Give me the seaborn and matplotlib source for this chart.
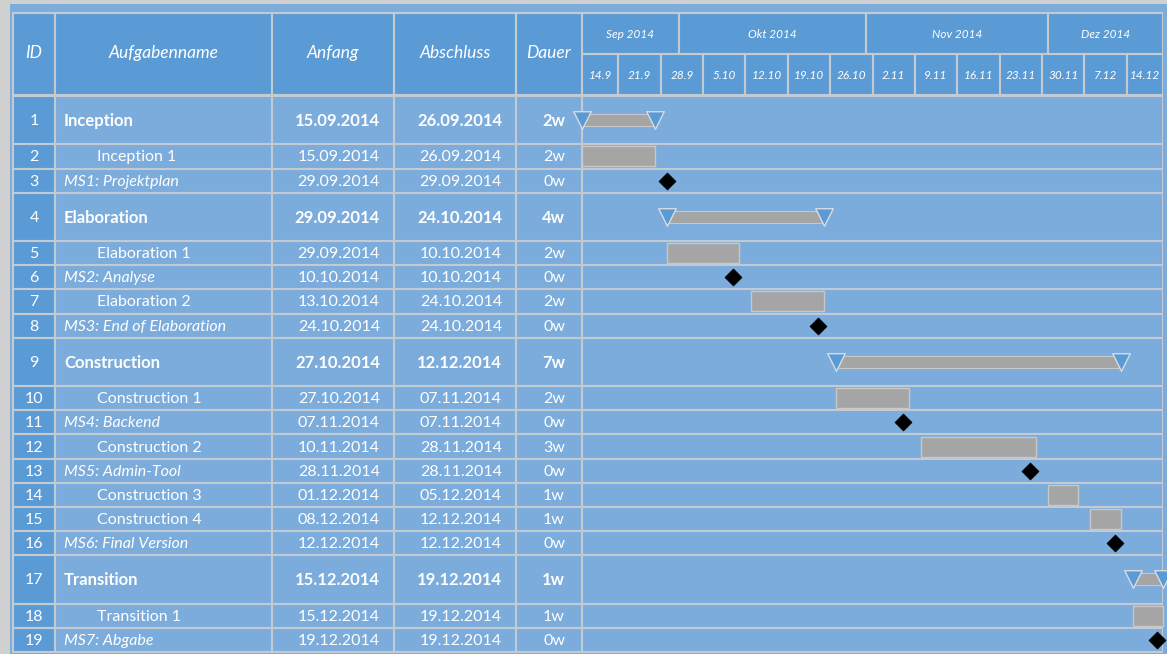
import numpy as np
import pandas as pd
import matplotlib
matplotlib.use("Agg")
import matplotlib.pyplot as plt
import matplotlib.dates as mdates
from matplotlib.patches import Rectangle
import seaborn as sns

# =============================================================================
# data
# =============================================================================
ids = list(range(1, 20))
names = ["Inception", "Inception 1", "MS1: Projektplan",
         "Elaboration", "Elaboration 1", "MS2: Analyse", "Elaboration 2",
         "MS3: End of Elaboration",
         "Construction", "Construction 1", "MS4: Backend", "Construction 2",
         "MS5: Admin-Tool", "Construction 3", "Construction 4", "MS6: Final Version",
         "Transition", "Transition 1", "MS7: Abgabe"]
kinds = ["summary", "task", "milestone",
         "summary", "task", "milestone", "task", "milestone",
         "summary", "task", "milestone", "task", "milestone", "task", "task", "milestone",
         "summary", "task", "milestone"]
starts = ["15.09.2014", "15.09.2014", "29.09.2014",
          "29.09.2014", "29.09.2014", "10.10.2014", "13.10.2014", "24.10.2014",
          "27.10.2014", "27.10.2014", "07.11.2014", "10.11.2014", "28.11.2014",
          "01.12.2014", "08.12.2014", "12.12.2014",
          "15.12.2014", "15.12.2014", "19.12.2014"]
ends = ["26.09.2014", "26.09.2014", "29.09.2014",
        "24.10.2014", "10.10.2014", "10.10.2014", "24.10.2014", "24.10.2014",
        "12.12.2014", "07.11.2014", "07.11.2014", "28.11.2014", "28.11.2014",
        "05.12.2014", "12.12.2014", "12.12.2014",
        "19.12.2014", "19.12.2014", "19.12.2014"]
durations = ["2w", "2w", "0w", "4w", "2w", "0w", "2w", "0w",
             "7w", "2w", "0w", "3w", "0w", "1w", "1w", "0w", "1w", "1w", "0w"]

headers = ["ID", "Aufgabenname", "Anfang", "Abschluss", "Dauer"]
month_labels = ["Sep 2014", "Okt 2014", "Nov 2014", "Dez 2014"]
month_firsts = ["01.09.2014", "01.10.2014", "01.11.2014", "01.12.2014"]
week_labels = ["14.9", "21.9", "28.9", "5.10", "12.10", "19.10", "26.10",
               "2.11", "9.11", "16.11", "23.11", "30.11", "7.12", "14.12"]
timeline_start = "15.09.2014"
timeline_end = "20.12.2014"

# =============================================================================
# styling / layout (pixels)
# =============================================================================
W, H = 1167, 654
HEAD_BLUE = "#5B9BD5"
ROW_BLUE = "#7BACDC"
GRID = "#C3CAD2"
BAR_GRAY = "#A5A5A5"
LW = 1.5
FS = 11.5
FS_HEAD = 12.5

col_edges = [13, 55, 272, 394, 516, 582, 1163]
head_top, head_mid, head_bot = 13, 54, 95
body_top, body_bot = 96, 652

sns.set_theme(style="white")
plt.rcParams["font.family"] = ["Lato", "DejaVu Sans"]

fig = plt.figure(figsize=(W / 100, H / 100), dpi=100, facecolor="#D0D0D0")

# table part in pixel coordinates
ax = fig.add_axes([0, 0, 1, 1])
ax.set_xlim(0, W)
ax.set_ylim(H, 0)
ax.axis("off")
ax.add_patch(Rectangle((10, 4), W - 10, H - 4, fc=ROW_BLUE, ec="none", zorder=0))

df = pd.DataFrame({"id": ids, "name": names, "kind": kinds,
                   "start": pd.to_datetime(starts, format="%d.%m.%Y"),
                   "end": pd.to_datetime(ends, format="%d.%m.%Y"),
                   "dur": durations})
df["end_x"] = df["end"] + pd.Timedelta(days=1)
units = np.where(df["kind"] == "summary", 2, 1)
unit_h = (body_bot - body_top) / units.sum()
df["top"] = body_top + np.concatenate([[0], np.cumsum(units)[:-1]]) * unit_h
df["h"] = units * unit_h
df["yc"] = df["top"] + df["h"] / 2

# header cells
for i, lab in enumerate(headers):
    x0, x1 = col_edges[i], col_edges[i + 1]
    ax.add_patch(Rectangle((x0, head_top), x1 - x0, head_bot - head_top,
                           fc=HEAD_BLUE, ec=GRID, lw=LW, zorder=1))
    ax.text((x0 + x1) / 2, (head_top + head_bot) / 2 - 1, lab, color="white",
            fontsize=FS_HEAD, style="italic", ha="center", va="center", zorder=3)

# body cells and texts
for _, r in df.iterrows():
    for i in range(5):
        x0, x1 = col_edges[i], col_edges[i + 1]
        ax.add_patch(Rectangle((x0, r["top"]), x1 - x0, r["h"],
                               fc=HEAD_BLUE if i == 0 else ROW_BLUE,
                               ec=GRID, lw=LW, zorder=1))
    summary = r["kind"] == "summary"
    bold = "bold" if summary else "normal"
    ital = "italic" if r["kind"] == "milestone" else "normal"
    fs = FS + 0.5 if summary else FS
    yc = r["yc"] + 1
    ax.text(34, yc, str(r["id"]), color="white", fontsize=FS,
            ha="center", va="center", zorder=3)
    ax.text(97 if r["kind"] == "task" else 64, yc, r["name"], color="white",
            fontsize=fs, fontweight=bold, style=ital, ha="left", va="center", zorder=3)
    ax.text(col_edges[3] - 14, yc, r["start"].strftime("%d.%m.%Y"), color="white",
            fontsize=fs, fontweight=bold, ha="right", va="center", zorder=3)
    ax.text(col_edges[4] - 14, yc, r["end"].strftime("%d.%m.%Y"), color="white",
            fontsize=fs, fontweight=bold, ha="right", va="center", zorder=3)
    ax.text(col_edges[5] - 17, yc, r["dur"], color="white",
            fontsize=fs, fontweight=bold, ha="right", va="center", zorder=3)

# =============================================================================
# gantt part: x = dates, y = same pixel rows
# =============================================================================
gx0, gx1 = col_edges[5], col_edges[6]
axg = fig.add_axes([gx0 / W, 0, (gx1 - gx0) / W, 1])
axg.patch.set_alpha(0)
t0 = mdates.date2num(pd.to_datetime(timeline_start, format="%d.%m.%Y"))
t1 = mdates.date2num(pd.to_datetime(timeline_end, format="%d.%m.%Y"))

# month header
mstarts = [mdates.date2num(pd.to_datetime(m, format="%d.%m.%Y")) for m in month_firsts]
for i, lab in enumerate(month_labels):
    a = max(mstarts[i], t0)
    b = mstarts[i + 1] if i + 1 < len(mstarts) else t1
    axg.add_patch(Rectangle((a, head_top), b - a, head_mid - head_top,
                            fc=HEAD_BLUE, ec=GRID, lw=LW, zorder=1))
    axg.text((a + b) / 2, (head_top + head_mid) / 2 + 1, lab, color="white",
             fontsize=8.5, style="italic", ha="center", va="center", zorder=3)

# week header
for lab in week_labels:
    d, m = lab.split(".")
    ws = mdates.date2num(pd.Timestamp(2014, int(m), int(d)))
    a, b = max(ws, t0), min(ws + 7, t1)
    axg.add_patch(Rectangle((a, head_mid), b - a, head_bot - head_mid,
                            fc=HEAD_BLUE, ec=GRID, lw=LW, zorder=1))
    axg.text((a + b) / 2, (head_mid + head_bot) / 2 + 1, lab, color="white",
             fontsize=8.5, style="italic", ha="center", va="center", zorder=3)

# row backgrounds
for _, r in df.iterrows():
    axg.add_patch(Rectangle((t0, r["top"]), t1 - t0, r["h"],
                            fc=ROW_BLUE, ec=GRID, lw=LW, zorder=1))

# plain tasks
tasks = df[df["kind"] == "task"]
axg.barh(tasks["yc"], mdates.date2num(tasks["end_x"]) - mdates.date2num(tasks["start"]),
         left=mdates.date2num(tasks["start"]), height=20, color=BAR_GRAY,
         edgecolor="#C8C8C8", linewidth=1, zorder=4, clip_on=False)

# summary bars with triangles at both ends
summ = df[df["kind"] == "summary"]
axg.barh(summ["yc"], mdates.date2num(summ["end_x"]) - mdates.date2num(summ["start"]),
         left=mdates.date2num(summ["start"]), height=12, color=BAR_GRAY,
         edgecolor="#C8C8C8", linewidth=0.8, zorder=4, clip_on=False)
tri = pd.DataFrame({"x": np.concatenate([mdates.date2num(summ["start"]),
                                         mdates.date2num(summ["end_x"])]),
                    "y": np.concatenate([summ["yc"], summ["yc"]])})
sns.scatterplot(data=tri, x="x", y="y", marker="v", s=160, color=HEAD_BLUE,
                edgecolor="#D5DCE4", linewidth=1, ax=axg, zorder=5,
                legend=False, clip_on=False)

# milestones
ms = df[df["kind"] == "milestone"].copy()
ms["x"] = mdates.date2num(ms["start"])
sns.scatterplot(data=ms, x="x", y="yc", marker="D", s=75, color="black",
                edgecolor="black", linewidth=0.5, ax=axg, zorder=6,
                legend=False, clip_on=False)

axg.set_xlim(t0, t1)
axg.set_ylim(H, 0)
axg.axis("off")

fig.savefig("out.png", dpi=100, facecolor=fig.get_facecolor())
